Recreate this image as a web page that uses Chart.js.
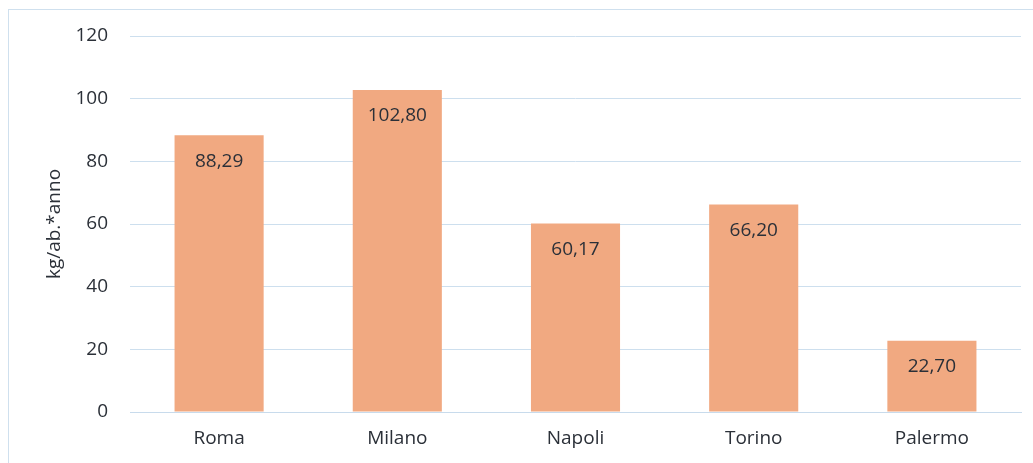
<!DOCTYPE html>
<html>
<head>
<meta charset="utf-8">
<script src="https://cdn.jsdelivr.net/npm/chart.js@4/dist/chart.umd.min.js"></script>
<style>
  body { margin: 0; background: #fff; }
  #wrap { position: relative; width: 1033px; height: 463px; overflow: hidden; }
  #frame { position: absolute; left: 8px; top: 9px; width: 1100px; height: 500px; border: 1px solid #cfe0ee; }
  canvas { position: absolute; left: 0; top: 0; }
</style>
</head>
<body>
<div id="wrap">
  <div id="frame"></div>
  <canvas id="chart" width="1033" height="463"></canvas>
</div>
<script>
// data
const cities = ['Roma', 'Milano', 'Napoli', 'Torino', 'Palermo'];
const kgPerInhabitant = [88.29, 102.80, 60.17, 66.20, 22.70];
const yTicks = [0, 20, 40, 60, 80, 100, 120];

const FONT = '"Open Sans", "Noto Sans", sans-serif';
const TEXT = '#2b3038';

// write the value inside each bar, under its top edge
const valueLabels = {
    id: 'valueLabels',
    afterDatasetsDraw(chart) {
        const ctx = chart.ctx;
        const meta = chart.getDatasetMeta(0);
        ctx.save();
        ctx.font = '19px ' + FONT;
        ctx.fillStyle = TEXT;
        ctx.textAlign = 'center';
        ctx.textBaseline = 'middle';
        meta.data.forEach((bar, i) => {
            const txt = kgPerInhabitant[i].toFixed(2).replace('.', ',');
            ctx.fillText(txt, bar.x, bar.y + 26);
        });
        ctx.restore();
    }
};

const chart = new Chart(document.getElementById('chart').getContext('2d'), {
    type: 'bar',
    data: {
        labels: cities,
        datasets: [{
            data: kgPerInhabitant,
            backgroundColor: '#f1a981',
            categoryPercentage: 0.5,
            barPercentage: 1.0
        }]
    },
    options: {
        responsive: false,
        animation: false,
        layout: { padding: { top: 36, right: 12, left: 43, bottom: 0 } },
        plugins: { legend: { display: false }, tooltip: { enabled: false } },
        scales: {
            x: {
                grid: { display: false, drawTicks: false },
                border: { display: true, color: '#c8dbec', width: 1 },
                ticks: { color: TEXT, font: { family: FONT, size: 19 }, padding: 15 },
                afterFit: (scale) => { scale.height = 51; }
            },
            y: {
                min: 0,
                max: 120,
                afterBuildTicks: (scale) => { scale.ticks = yTicks.map(v => ({ value: v })); },
                grid: { color: '#cddfee', drawTicks: false },
                border: { display: false },
                ticks: { color: TEXT, font: { family: FONT, size: 19 }, padding: 22 },
                title: { display: true, text: 'kg/ab.*anno', color: TEXT, font: { family: FONT, size: 19 }, padding: 0 },
                afterFit: (scale) => { scale.width = 87; }
            }
        }
    },
    plugins: [valueLabels]
});
</script>
</body>
</html>
